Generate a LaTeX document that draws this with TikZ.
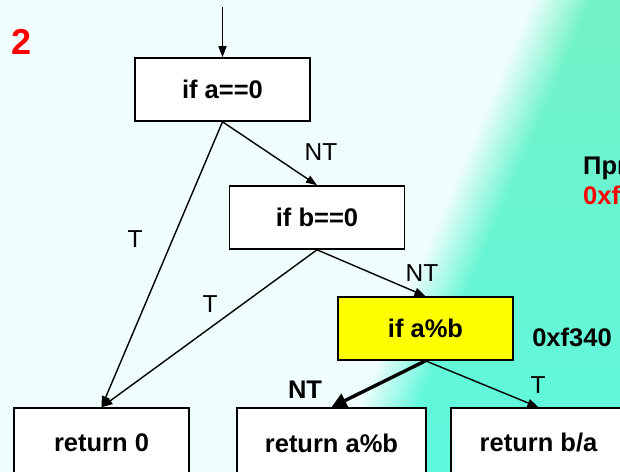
\documentclass[tikz,border=0pt]{standalone}
\usepackage{fontspec}
\setmainfont{Liberation Sans}
\usetikzlibrary{arrows.meta}
\definecolor{bglight}{RGB}{240,253,253}
\definecolor{bgtop}{RGB}{116,242,198}
\definecolor{bgbot}{RGB}{94,248,222}
\definecolor{boxyellow}{RGB}{255,255,0}
\definecolor{numred}{RGB}{255,0,0}
\begin{document}
\begin{tikzpicture}[x=1pt,y=-1pt,
  box/.style={draw=black, line width=1.6pt, fill=white, minimum width=175pt, minimum height=63pt, inner sep=0pt, font=\bfseries\fontsize{25.5}{28}\selectfont},
  lowbox/.style={box, minimum height=70pt},
  edge/.style={line width=1.4pt, -{Triangle[length=11pt,width=8pt]}},
  thickedge/.style={line width=3.4pt, -{Triangle[length=15pt,width=15pt]}},
  lbl/.style={inner sep=0pt, font=\fontsize{24.5}{28}\selectfont},
  blbl/.style={inner sep=0pt, font=\bfseries\fontsize{25.5}{28}\selectfont}]
\useasboundingbox (0,0) rectangle (620,471);
\begin{scope}
\clip (0,0) rectangle (620,471);
% background
\shade[top color=bgtop, bottom color=bgbot] (-10,-10) rectangle (630,481);
\foreach \k in {30,28,...,-30}{
  \pgfmathtruncatemacro{\t}{(30-\k)/60*100}
  \shade[top color=bglight!\t!bgtop, bottom color=bglight!\t!bgbot]
    (-10,-10) -- ({568+\k},-10) -- ({358+\k},481) -- (-10,481) -- cycle;
}
% title
\node[inner sep=0pt, text=numred, font=\bfseries\fontsize{36}{40}\selectfont] (num) at (21.5,42) {2};
% boxes
\node[box] (b1) at (222.5,89.5) {if a==0};
\node[box] (b2) at (317,217.5) {if b==0};
\node[box, fill=boxyellow] (b3) at (425.5,328.5) {if a\%b};
\node[lowbox] (b4) at (101.5,443) {return 0};
\node[lowbox, minimum width=189pt] (b5) at (331.5,443) {return a\%b};
\node[lowbox] (b6) at (538.5,443) {return b/a};
% entry
\coordinate (start) at (222.5,7);
\draw[edge] (start) -- (b1.north);
% connectors
\draw[edge] (b1.south) -- (b4.north);
\draw[edge] (b1.south) -- (b2.north);
\draw[edge] (b2.south) -- (b4.north);
\draw[edge] (b2.south) -- (b3.north);
\draw[thickedge] (b3.south) -- (b5.north);
\draw[edge] (b3.south) -- (b6.north);
% labels
\node[lbl] (l1) at (135,239) {T};
\node[lbl] (l2) at (321,152) {NT};
\node[lbl] (l3) at (210,304) {T};
\node[lbl] (l4) at (422,273) {NT};
\node[blbl] (l5) at (305,390) {NT};
\node[lbl] (l6) at (538,385) {T};
\node[blbl] (addr) at (572,337) {0xf340};
\node[blbl, anchor=base west] (ex1) at (583,174) {При};
\node[blbl, anchor=base west, text=numred] (ex2) at (583,204) {0xf};
\end{scope}
\end{tikzpicture}
\end{document}
